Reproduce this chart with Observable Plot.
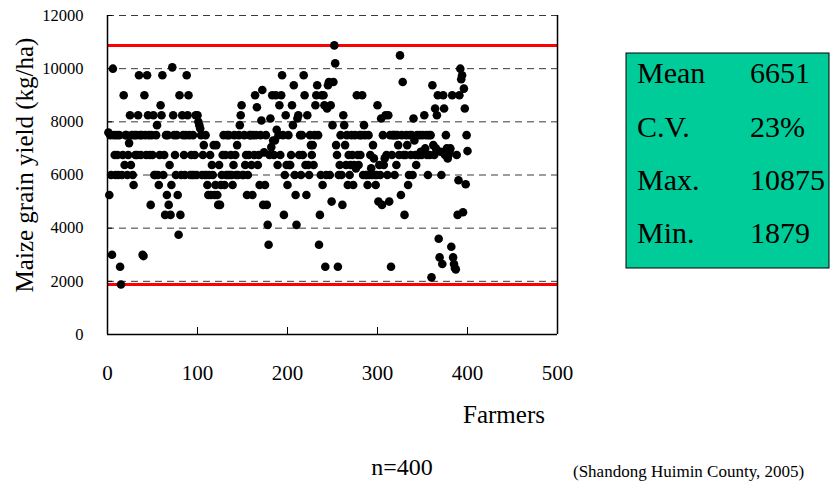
<!DOCTYPE html>
<html>
<head>
<meta charset="utf-8">
<script src="https://cdn.jsdelivr.net/npm/d3@7"></script>
<script src="https://cdn.jsdelivr.net/npm/@observablehq/plot@0.6"></script>
<style>
  html, body { margin: 0; padding: 0; background: #ffffff; overflow: hidden; }
  #chart { width: 830px; height: 481px; overflow: hidden; }
</style>
</head>
<body>
<div id="chart"></div>
<script>
// ---- data ----
const yieldTicks = [0, 2000, 4000, 6000, 8000, 10000, 12000];
const farmerTicks = [0, 100, 200, 300, 400, 500];
const statLabels = ["Mean", "C.V.", "Max.", "Min."];
const statValues = ["6651", "23%", "10875", "1879"];
const limitLines = [10875, 1879];
const yAxisTitle = "Maize grain yield (kg/ha)";
const xAxisTitle = "Farmers";
const sampleNote = "n=400";
const sourceNote = "(Shandong Huimin County, 2005)";

// maize grain yield of each farmer (kg/ha), farmers 1..400
const yields = [
  7600,5250,7500,6000,3000,10000,7500,6750,6000,7500,6750,6000,7500,2550,1879,6000,6750,9000,6375,7500,
  7500,6000,6750,7200,8250,6375,7500,6000,5625,7500,6750,7500,6750,8250,9750,7500,6750,7500,3000,2950,
  9000,7500,6750,9750,8250,7500,6750,4875,7500,6750,8250,6000,6000,7500,7875,6000,5625,6750,8625,8250,
  9750,6000,6750,4500,7500,5250,7500,4875,6375,4500,5625,10050,8250,7500,6750,6000,7500,5250,3750,9000,
  4500,6000,8250,7500,6750,6000,7500,9750,8250,9000,7500,6000,6750,6000,7500,6000,6750,8250,6000,8250,
  8000,7875,7750,7500,6000,6750,7125,6000,7500,6000,5625,5250,6000,6750,5250,6375,6000,7125,5250,5625,
  7125,5250,4875,6375,4875,5625,6000,6750,7500,5625,6750,6000,7500,6000,7500,6000,6750,6000,5625,6375,
  7500,6750,6000,7125,6000,7500,7875,8250,8625,6000,6000,7500,6375,6750,5250,6000,6750,7500,7500,6375,
  5250,7500,6750,9000,7500,8550,6375,6750,5625,7500,8050,9200,4875,6850,5625,7500,4875,4125,3375,6750,
  8125,7050,9000,7300,6750,7300,9000,7700,6375,7500,8625,6750,9000,9750,7500,4500,6000,8250,6375,5625,
  7500,6375,6375,6750,8625,7875,9375,6000,5250,4125,8125,8250,6750,7500,6000,7500,6750,9750,9000,6375,
  5250,8250,6375,6000,7500,7125,6750,7125,6375,7500,8625,9000,9375,7500,3375,4500,6000,9000,5625,9000,
  8625,2550,6000,8500,9375,9500,6000,8625,5000,7875,9500,10875,10200,7125,6750,2550,6000,6375,7500,6000,
  4875,8250,7875,7125,6375,7500,5625,6750,6000,6375,7500,6750,5625,6375,7500,6250,9000,6750,6375,7500,
  6750,7500,9000,6000,7875,7500,6000,6000,5625,7500,6000,6750,6250,6000,7125,6625,6000,5625,6000,8625,
  5000,6375,6000,8125,4875,7500,6375,6625,8250,6750,6000,8250,5000,7500,2550,6750,7500,7500,6000,7500,
  6375,7500,7125,6750,10500,5250,7500,9500,6750,4500,6750,7500,7125,5625,6000,7500,6750,7500,6000,8125,
  7300,6750,6375,7500,6750,6750,7500,6875,6750,7500,6875,8250,7000,7500,6750,6000,7500,6750,7500,2150,
  9375,7125,6750,8500,7000,8250,9000,3600,2900,6875,6000,2650,9000,8500,6750,7500,7000,6625,6750,6875,
  7000,3300,9000,2900,2650,2500,2450,6750,4500,5800,9000,10000,9600,9750,4600,9250,8500,5650,7500,6900
];

const table = yields.map((v, i) => ({farmer: i + 1, yield: v}));
const serif = '"Liberation Serif", "Times New Roman", Times, serif';

const chart = Plot.plot({
  width: 830,
  height: 481,
  marginLeft: 107,
  marginRight: 273,
  marginTop: 15,
  marginBottom: 147,
  style: {fontFamily: serif, fontSize: "16px", color: "black", background: "white", overflow: "visible"},
  x: {domain: [0, 500], label: null},
  y: {domain: [0, 12000], label: null},
  marks: [
    Plot.ruleY(yieldTicks.filter(d => d > 0), {stroke: "#3a3a3a", strokeWidth: 1, strokeDasharray: "7,5"}),
    Plot.ruleY(limitLines, {stroke: "#ff0000", strokeWidth: 3}),
    Plot.ruleX([0, 500], {stroke: "black", strokeWidth: 1.5}),
    Plot.ruleY([0], {stroke: "black", strokeWidth: 1.5}),
    Plot.dot(table, {x: "farmer", y: "yield", r: 4.3, fill: "black", stroke: "none"}),
    Plot.axisY({ticks: yieldTicks, tickSize: -5, tickPadding: 29, fontSize: 16.5, tickFormat: d3.format("d"), label: null}),
    Plot.axisX({ticks: farmerTicks, tickSize: -7, tickPadding: 38, fontSize: 21, tickFormat: d3.format("d"), label: null})
  ]
});

document.getElementById("chart").appendChild(chart);

const svg = d3.select(chart);

// axis titles and notes
svg.append("text")
  .attr("transform", "translate(33,165) rotate(-90)")
  .attr("text-anchor", "middle")
  .attr("font-family", serif).attr("font-size", 25).attr("fill", "black")
  .text(yAxisTitle);

svg.append("text")
  .attr("x", 504).attr("y", 423)
  .attr("text-anchor", "middle")
  .attr("font-family", serif).attr("font-size", 25).attr("fill", "black")
  .text(xAxisTitle);

svg.append("text")
  .attr("x", 402).attr("y", 475)
  .attr("text-anchor", "middle")
  .attr("font-family", serif).attr("font-size", 24).attr("fill", "black")
  .text(sampleNote);

svg.append("text")
  .attr("x", 573).attr("y", 477)
  .attr("text-anchor", "start")
  .attr("font-family", serif).attr("font-size", 17).attr("fill", "black")
  .text(sourceNote);

// statistics box
const box = svg.append("g");
box.append("rect")
  .attr("x", 626).attr("y", 53).attr("width", 203).attr("height", 215)
  .attr("fill", "#00cc99").attr("stroke", "black").attr("stroke-width", 1);

const baselines = [83, 137, 190, 243];
statLabels.forEach((lab, i) => {
  box.append("text")
    .attr("x", 637).attr("y", baselines[i])
    .attr("text-anchor", "start")
    .attr("font-family", serif).attr("font-size", 30).attr("fill", "black")
    .text(lab);
  box.append("text")
    .attr("x", 750).attr("y", baselines[i])
    .attr("text-anchor", "start")
    .attr("font-family", serif).attr("font-size", 30).attr("fill", "black")
    .text(statValues[i]);
});
</script>
</body>
</html>
